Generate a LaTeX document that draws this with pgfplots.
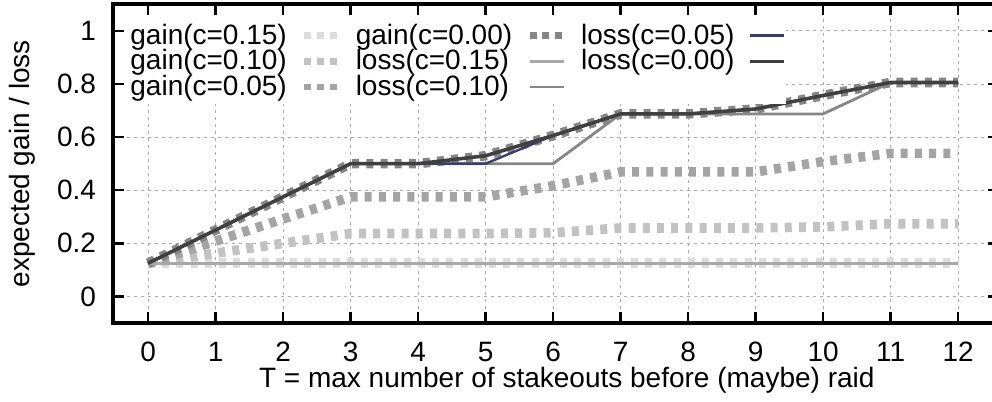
\documentclass[border=0pt]{standalone}
\usepackage{fontspec}
\setmainfont{Liberation Sans}
\usepackage{pgfplots}
\pgfplotsset{compat=1.18}
\definecolor{gA}{HTML}{DCDCDC}
\definecolor{gB}{HTML}{C2C2C2}
\definecolor{gC}{HTML}{A4A4A4}
\definecolor{gD}{HTML}{868686}
\definecolor{lA}{HTML}{A8A8A8}
\definecolor{lB}{HTML}{868686}
\definecolor{lC}{HTML}{3E3E66}
\definecolor{lD}{HTML}{404040}
\pgfplotsset{
  gainsty/.style={line width=4.8pt, dash pattern=on 3.5pt off 3.6pt},
  gainleg/.style={line width=3.4pt, dash pattern=on 3.5pt off 2.9pt},
}
\begin{document}
\begin{tikzpicture}[font=\fontsize{14}{16.5}\selectfont]
\begin{axis}[
  at={(0,0)}, anchor=south west,
  scale only axis, width=442.8pt, height=159.3pt,
  xmin=-0.52, xmax=12.6, ymin=-0.1, ymax=1.1,
  xtick={0,1,2,3,4,5,6,7,8,9,10,11,12},
  ytick={0,0.2,0.4,0.6,0.8,1},
  axis line style={line width=2pt},
  every tick/.style={black, line width=1.2pt},
  major tick length=5.5pt,
  grid=major,
  major grid style={color=black!32, line width=0.5pt, dash pattern=on 1.5pt off 2pt},
  /pgf/number format/assume math mode=true,
  xticklabel style={yshift=-6pt},
  yticklabel style={xshift=-5pt},
  xlabel={T = max number of stakeouts before (maybe) raid},
  ylabel={expected gain / loss},
  xlabel style={at={(axis description cs:0.5124,-0.1789)}, anchor=center},
  ylabel style={at={(axis description cs:-0.1022,0.5)}, anchor=center},
  legend columns=3,
  legend plot pos=right,
  legend cell align=left,
  legend style={at={(0,1)}, anchor=north west, xshift=6.5pt, yshift=-7pt,
    draw=none, fill=white, inner xsep=0pt, inner ysep=2pt,
    column sep=5pt, row sep=0pt,
    nodes={inner xsep=2pt, inner ysep=0.6pt}},
]
% legend images (row-major order)
\addlegendimage{gA, gainleg}
\addlegendimage{gD, gainleg}
\addlegendimage{lC, line width=1.2pt}
\addlegendimage{gB, gainleg}
\addlegendimage{lA, line width=1.4pt}
\addlegendimage{lD, line width=1.8pt}
\addlegendimage{gC, gainleg}
\addlegendimage{lB, line width=1.4pt}
\legend{gain(c=0.15),gain(c=0.00),loss(c=0.05),gain(c=0.10),loss(c=0.15),loss(c=0.00),gain(c=0.05),loss(c=0.10)}

% gain(c=0.15)
\addplot[gA, gainsty, forget plot] coordinates {
(0,0.125)(1,0.125)(2,0.125)(3,0.125)(4,0.125)(5,0.125)(6,0.125)(7,0.125)(8,0.125)(9,0.125)(10,0.125)(11,0.125)(12,0.125)};
% gain(c=0.10)
\addplot[gB, gainsty, forget plot] coordinates {
(0,0.125)(1,0.163)(2,0.2)(3,0.237)(4,0.237)(5,0.237)(6,0.24)(7,0.258)(8,0.258)(9,0.258)(10,0.262)(11,0.274)(12,0.274)};
% gain(c=0.05)
\addplot[gC, gainsty, forget plot] coordinates {
(0,0.125)(1,0.208)(2,0.292)(3,0.375)(4,0.375)(5,0.375)(6,0.417)(7,0.469)(8,0.469)(9,0.469)(10,0.508)(11,0.539)(12,0.539)};
% gain(c=0.00)
\addplot[gD, gainsty, forget plot] coordinates {
(0,0.125)(1,0.25)(2,0.375)(3,0.5)(4,0.5)(5,0.53)(6,0.606)(7,0.6875)(8,0.6875)(9,0.706)(10,0.757)(11,0.806)(12,0.806)};
% loss(c=0.15)
\addplot[lA, line width=1.4pt, forget plot] coordinates {
(0,0.125)(1,0.125)(2,0.125)(3,0.125)(4,0.125)(5,0.125)(6,0.125)(7,0.125)(8,0.125)(9,0.125)(10,0.125)(11,0.125)(12,0.125)};
% loss(c=0.10)
\addplot[lB, line width=1.4pt, forget plot] coordinates {
(0,0.125)(1,0.25)(2,0.375)(3,0.5)(4,0.5)(5,0.5)(6,0.5)(7,0.6875)(8,0.6875)(9,0.6875)(10,0.6875)(11,0.806)(12,0.806)};
% loss(c=0.05)
\addplot[lC, line width=1.2pt, forget plot] coordinates {
(0,0.125)(1,0.25)(2,0.375)(3,0.5)(4,0.5)(5,0.5)(6,0.606)(7,0.6875)(8,0.6875)(9,0.706)(10,0.757)(11,0.806)(12,0.806)};
% loss(c=0.00)
\addplot[lD, line width=1.8pt, forget plot] coordinates {
(0,0.125)(1,0.25)(2,0.375)(3,0.5)(4,0.5)(5,0.53)(6,0.606)(7,0.6875)(8,0.6875)(9,0.706)(10,0.757)(11,0.806)(12,0.806)};
\end{axis}
\pgfresetboundingbox
\useasboundingbox (-56.5pt,-39.5pt) rectangle (439.5pt,161.5pt);
\end{tikzpicture}
\end{document}
